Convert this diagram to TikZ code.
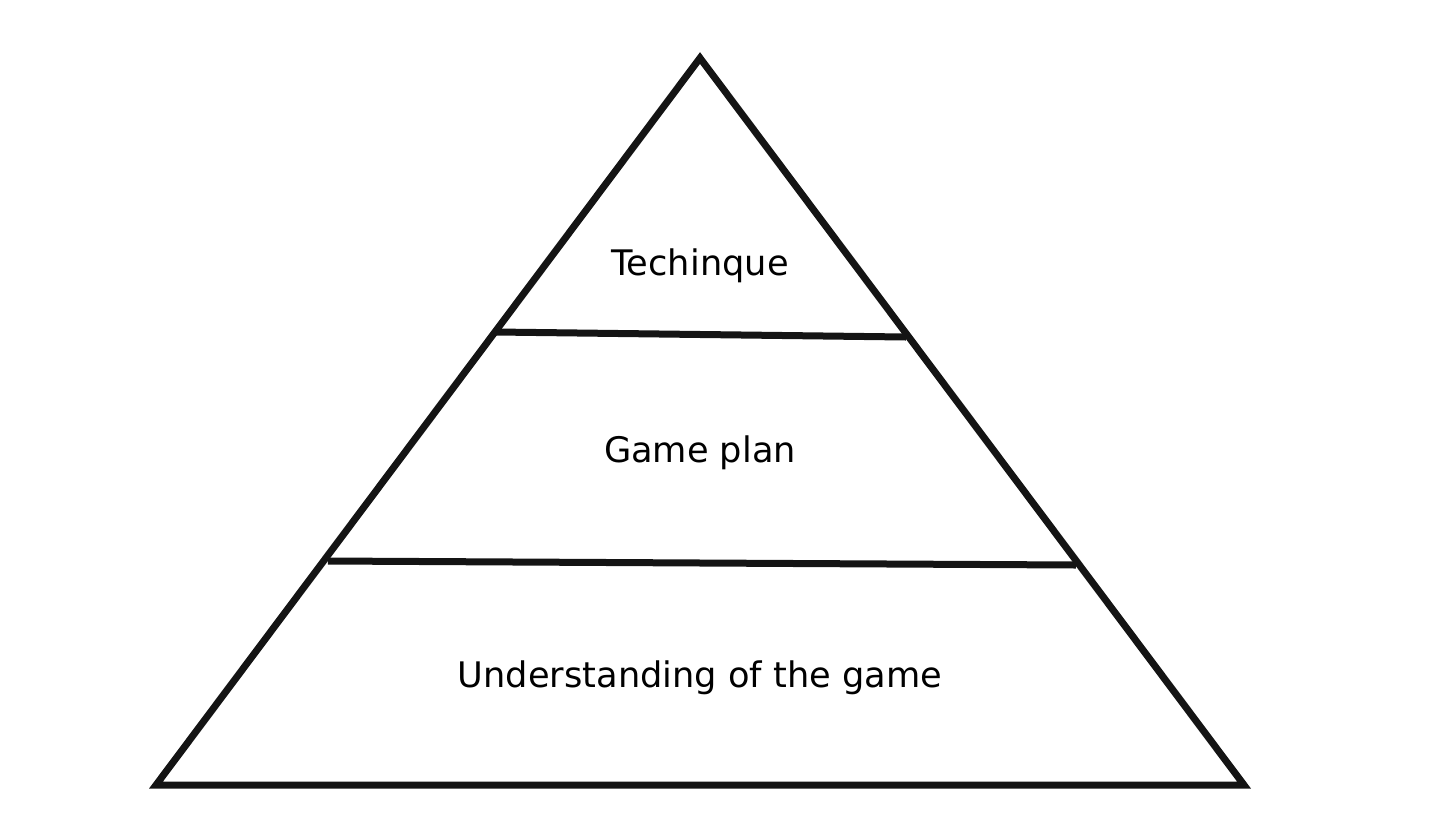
\documentclass[tikz,border=0pt]{standalone}
\usepackage{fontspec}
\setmainfont{DejaVu Sans}
\begin{document}
\begin{tikzpicture}[x=0.5pt,y=-0.5pt,
  edge/.style={draw=black!92, line width=3.5pt, line join=miter},
  lbl/.style={font=\fontsize{17.6}{21}\selectfont, text=black, inner sep=0pt, anchor=base}]
\useasboundingbox (0,0) rectangle (1447,821);
\coordinate (apex) at (700,58);
\coordinate (bl) at (156,785);
\coordinate (br) at (1244,785);
\draw[edge] (apex) -- (br) -- (bl) -- cycle;
\coordinate (a1) at (496,332);
\coordinate (a2) at (906,337);
\coordinate (b1) at (328,561);
\coordinate (b2) at (1076,565);
\draw[edge] (a1) -- (a2);
\draw[edge] (b1) -- (b2);
\node[lbl] (t1) at (700,275) {Techinque};
\node[lbl] (t2) at (700,462) {Game plan};
\node[lbl] (t3) at (700,687) {Understanding of the game};
\end{tikzpicture}
\end{document}
